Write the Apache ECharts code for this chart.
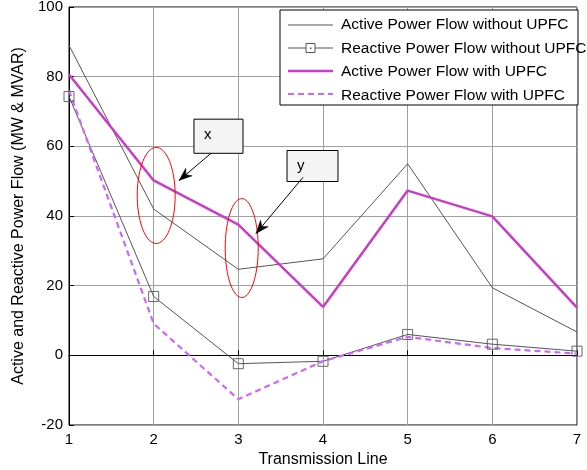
<!DOCTYPE html>
<html>
<head>
<meta charset="utf-8">
<script src="https://cdn.jsdelivr.net/npm/echarts@6/dist/echarts.min.js"></script>
<style>
  html, body { margin: 0; padding: 0; background: #fff; }
  #chart { width: 587px; height: 470px; }
</style>
</head>
<body>
<div id="chart"></div>
<script>
// ── Data ──
const lines = [1, 2, 3, 4, 5, 6, 7];
const activeWithout = [89, 42, 24.7, 27.7, 55, 19.4, 6.7];
const reactiveWithout = [74.3, 16.9, -2.4, -1.7, 6, 3.2, 1.2];
const activeWith = [80.6, 50.2, 37.5, 13.9, 47.3, 39.9, 13.7];
const reactiveWith = [76, 9.1, -12.6, -1.7, 5.3, 2.1, 0.5];

const seriesNames = [
  'Active Power Flow without UPFC',
  'Reactive Power Flow without UPFC',
  'Active Power Flow with UPFC',
  'Reactive Power Flow with UPFC',
];

// annotations in data coordinates
const ellipses = [
  { cx: 2.03, cy: 45.9, rx: 0.224, ry: 13.8 },
  { cx: 3.04, cy: 30.8, rx: 0.195, ry: 14.2 },
];
const notes = [
  { text: 'x', x0: 2.476, y0: 67.8, x1: 3.055, y1: 58.0, from: [2.677, 58.0], to: [2.30, 50.2] },
  { text: 'y', x0: 3.575, y0: 58.8, x1: 4.177, y1: 49.9, from: [3.764, 51.1], to: [3.209, 35.0] },
];

const FONT = 'Liberation Sans, Arial, sans-serif';
const GRAY = '#555';
const MAGENTA = '#c83cc8';
const VIOLET = '#cc66ff';

function pairs(vals) {
  return lines.map((x, i) => [x, vals[i]]);
}

const chart = echarts.init(document.getElementById('chart'));

chart.setOption({
  backgroundColor: '#fff',
  animation: false,
  grid: {
    left: 69, right: 10, top: 7, bottom: 45,
    outerBoundsMode: 'none', containLabel: false,
    show: true, borderColor: '#000', borderWidth: 1,
  },
  legend: {
    orient: 'vertical',
    left: 290, top: 17, padding: 0,
    itemWidth: 45, itemHeight: 14, itemGap: 7.5,
    icon: 'rect',
    itemStyle: { opacity: 0 },
    textStyle: { fontFamily: FONT, fontSize: 15.5, color: '#000' },
    data: seriesNames,
    z: 5,
  },
  xAxis: {
    type: 'value', min: 1, max: 7, interval: 1,
    name: 'Transmission Line',
    nameLocation: 'middle', nameGap: 25,
    nameTextStyle: { fontFamily: FONT, fontSize: 16, color: '#000' },
    axisLine: { lineStyle: { color: '#000' } },
    axisTick: { inside: true, length: 5, lineStyle: { color: '#000' } },
    axisLabel: { fontFamily: FONT, fontSize: 15, color: '#000', margin: 7 },
    splitLine: { show: true, lineStyle: { color: '#a0a0a0', width: 1 } },
  },
  yAxis: {
    type: 'value', min: -20, max: 100, interval: 20,
    name: 'Active and Reactive Power Flow (MW & MVAR)',
    nameLocation: 'middle', nameGap: 36,
    nameTextStyle: { fontFamily: FONT, fontSize: 16, color: '#000' },
    axisLine: { show: true, lineStyle: { color: '#000' } },
    axisTick: { show: true, inside: true, length: 5, lineStyle: { color: '#000' } },
    axisLabel: { fontFamily: FONT, fontSize: 15, color: '#000', margin: 6 },
    splitLine: { show: true, lineStyle: { color: '#a0a0a0', width: 1 } },
  },
  series: [
    {
      name: seriesNames[0], type: 'line', data: pairs(activeWithout),
      symbol: 'none',
      lineStyle: { color: GRAY, width: 1 },
      itemStyle: { color: GRAY },
    },
    {
      name: seriesNames[1], type: 'line', data: pairs(reactiveWithout),
      symbol: 'rect', symbolSize: 10,
      lineStyle: { color: GRAY, width: 1 },
      itemStyle: { color: 'rgba(255,255,255,0)', borderColor: '#666', borderWidth: 1 },
    },
    {
      name: seriesNames[2], type: 'line', data: pairs(activeWith),
      symbol: 'none',
      lineStyle: { color: MAGENTA, width: 2.5 },
      itemStyle: { color: MAGENTA },
    },
    {
      name: seriesNames[3], type: 'line', data: pairs(reactiveWith),
      symbol: 'none',
      lineStyle: { color: VIOLET, width: 2.2, type: [6, 4] },
      itemStyle: { color: VIOLET },
    },
  ],
});

// ── Annotations ──
function px(x, y) {
  return chart.convertToPixel({ gridIndex: 0 }, [x, y]);
}

function ellipsePoints(e) {
  const pts = [];
  for (let i = 0; i < 72; i++) {
    const a = (i / 72) * Math.PI * 2;
    pts.push(px(e.cx + e.rx * Math.cos(a), e.cy + e.ry * Math.sin(a)));
  }
  return pts;
}

function arrowHead(from, to) {
  const dx = to[0] - from[0], dy = to[1] - from[1];
  const len = Math.sqrt(dx * dx + dy * dy);
  const ux = dx / len, uy = dy / len;
  const nx = -uy, ny = ux;
  const L = 13, W = 5, back = 9;
  return [
    to,
    [to[0] - ux * L + nx * W, to[1] - uy * L + ny * W],
    [to[0] - ux * back, to[1] - uy * back],
    [to[0] - ux * L - nx * W, to[1] - uy * L - ny * W],
  ];
}

const graphics = [];
ellipses.forEach(e => {
  graphics.push({
    type: 'polygon', z: 100,
    shape: { points: ellipsePoints(e) },
    style: { fill: 'none', stroke: '#ff0000', lineWidth: 1 },
  });
});
notes.forEach(n => {
  const a = px(n.x0, n.y0), b = px(n.x1, n.y1);
  const f = px(n.from[0], n.from[1]), t = px(n.to[0], n.to[1]);
  graphics.push({
    type: 'rect', z: 100,
    shape: { x: a[0], y: a[1], width: b[0] - a[0], height: b[1] - a[1] },
    style: { fill: '#f4f4f4', stroke: '#000', lineWidth: 1 },
  });
  graphics.push({
    type: 'text', z: 101,
    x: a[0] + 10, y: a[1] + 8,
    style: { text: n.text, fontFamily: FONT, fontSize: 15, fill: '#000' },
  });
  graphics.push({
    type: 'line', z: 100,
    shape: { x1: f[0], y1: f[1], x2: t[0], y2: t[1] },
    style: { stroke: '#000', lineWidth: 1 },
  });
  graphics.push({
    type: 'polygon', z: 100,
    shape: { points: arrowHead(f, t) },
    style: { fill: '#000', stroke: '#000', lineWidth: 0.5 },
  });
});

// legend frame and line samples
graphics.push({
  type: 'rect', z: 3,
  shape: { x: 280, y: 10, width: 298, height: 95 },
  style: { fill: '#fff', stroke: '#000', lineWidth: 1 },
});
const samples = [
  { color: GRAY, width: 1, dash: null, square: false },
  { color: GRAY, width: 1, dash: null, square: true },
  { color: MAGENTA, width: 2.5, dash: null, square: false },
  { color: VIOLET, width: 2.2, dash: [6, 4], square: false },
];
samples.forEach((s, i) => {
  const y = 25 + i * 23;
  graphics.push({
    type: 'line', z: 10,
    shape: { x1: 288, y1: y, x2: 333, y2: y },
    style: { stroke: s.color, lineWidth: s.width, lineDash: s.dash },
  });
  if (s.square) {
    graphics.push({
      type: 'rect', z: 11,
      shape: { x: 306, y: y - 4.5, width: 9, height: 9 },
      style: { fill: '#fff', stroke: s.color, lineWidth: 1 },
    });
    graphics.push({
      type: 'rect', z: 12,
      shape: { x: 310, y: y - 0.5, width: 1.5, height: 1.5 },
      style: { fill: s.color },
    });
  }
});

chart.setOption({ graphic: graphics });
</script>
</body>
</html>
